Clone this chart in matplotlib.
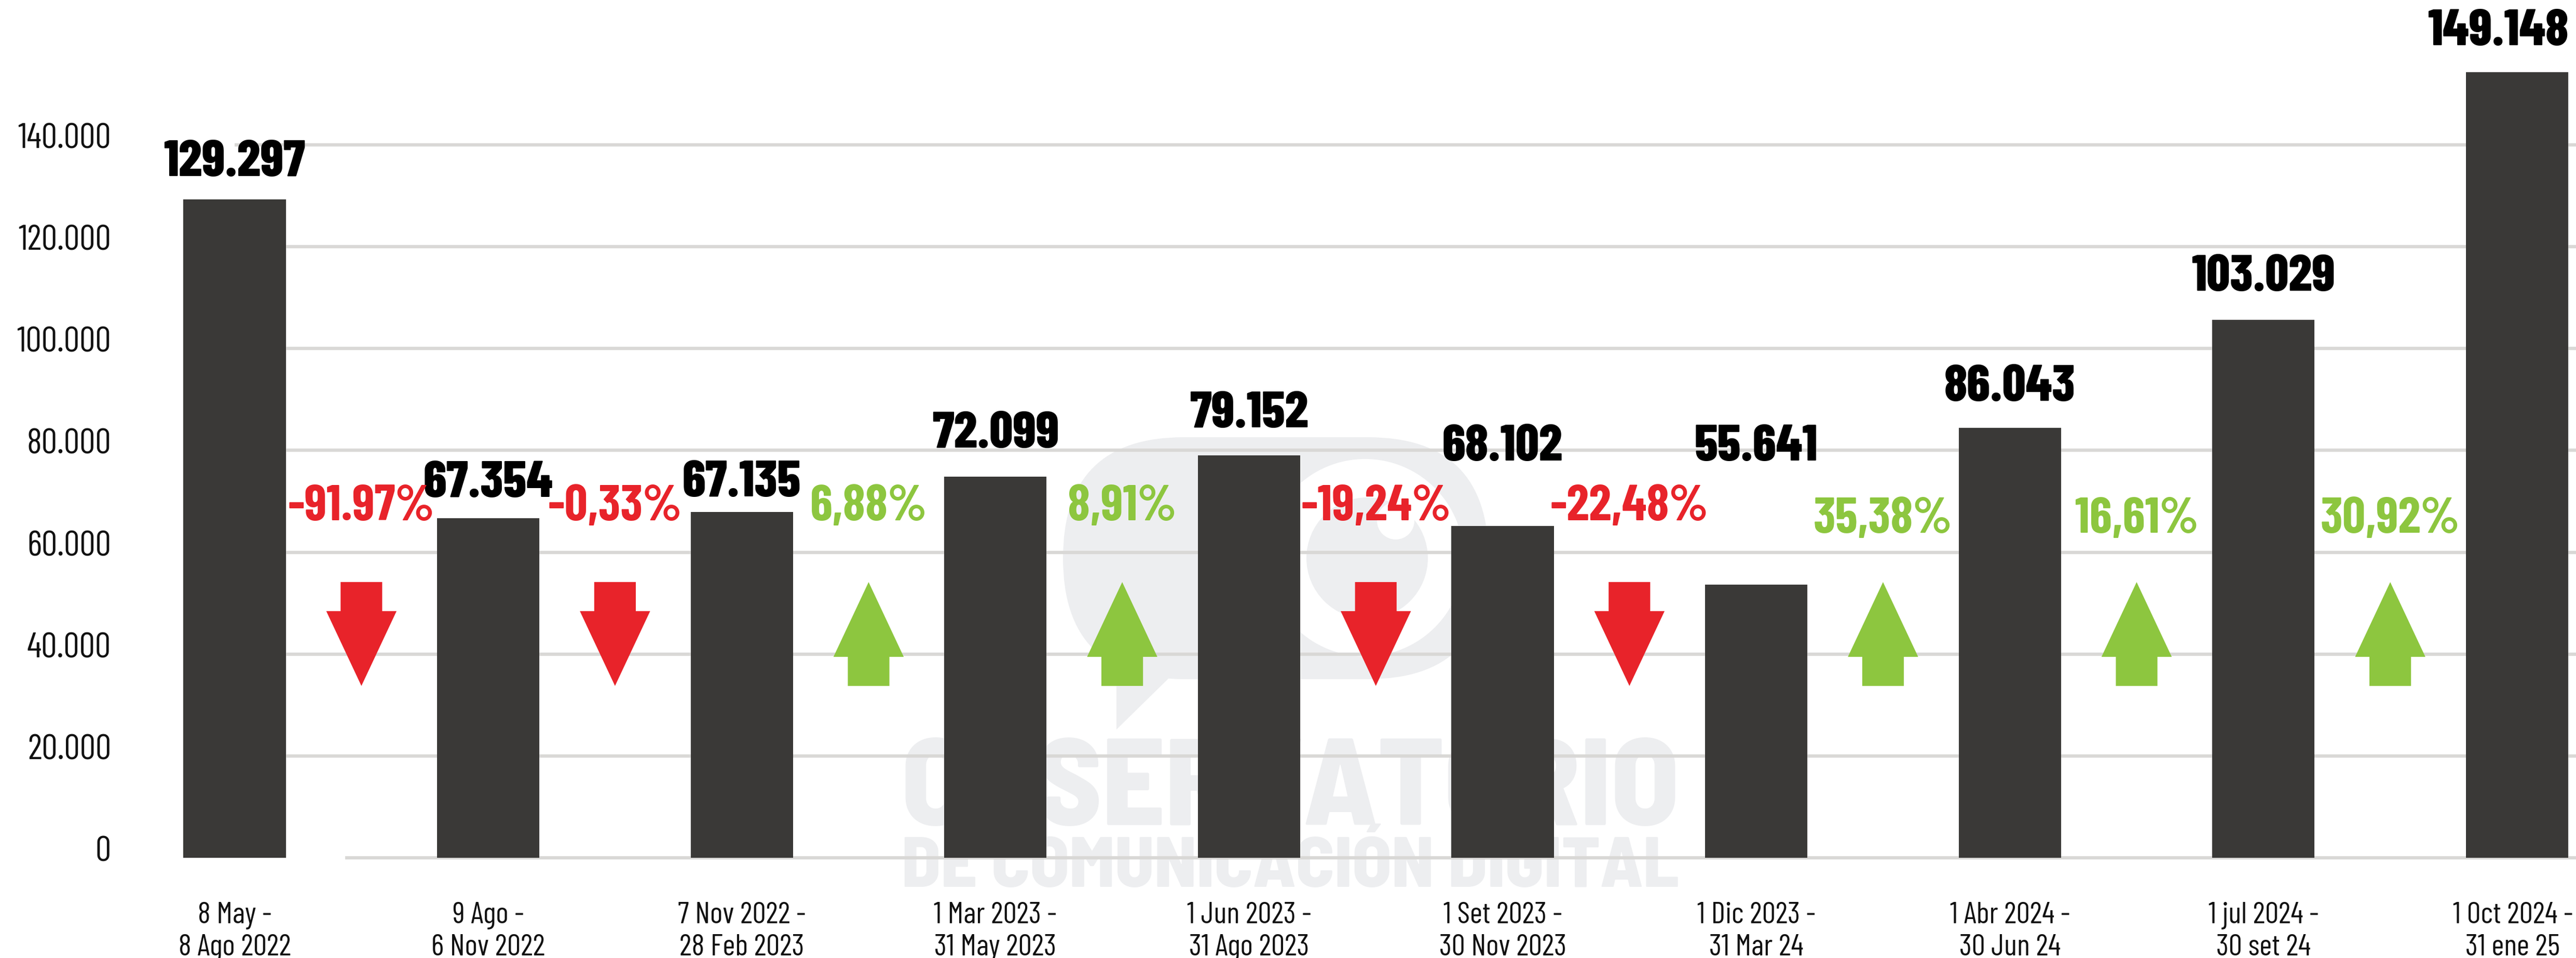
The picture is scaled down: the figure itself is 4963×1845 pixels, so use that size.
import matplotlib
matplotlib.use('Agg')
import numpy as np
import matplotlib.pyplot as plt
from matplotlib import font_manager, transforms
from matplotlib.patches import Polygon, Circle, FancyBboxPatch

# ---------------- data ----------------
categories = ['8 May -\n8 Ago 2022', '9 Ago -\n6 Nov 2022', '7 Nov 2022 -\n28 Feb 2023',
              '1 Mar 2023 -\n31 May 2023', '1 Jun 2023 -\n31 Ago 2023', '1 Set 2023 -\n30 Nov 2023',
              '1 Dic 2023 -\n31 Mar 24', '1 Abr 2024 -\n30 Jun 24', '1 jul 2024 -\n30 set 24',
              '1 Oct 2024 -\n31 ene 25']
bar_heights = [129300, 66700, 67900, 74800, 79000, 65200, 53600, 84400, 105600, 154300]
value_labels = ['129.297', '67.354', '67.135', '72.099', '79.152', '68.102', '55.641',
                '86.043', '103.029', '149.148']
change_labels = ['-91.97%', '-0,33%', '6,88%', '8,91%', '-19,24%', '-22,48%', '35,38%',
                 '16,61%', '30,92%']
change_up = [False, False, True, True, False, False, True, True, True]
y_ticks = [0, 20000, 40000, 60000, 80000, 100000, 120000, 140000]
y_tick_labels = ['0', '20.000', '40.000', '60.000', '80.000', '100.000', '120.000', '140.000']
watermark = ['OBSERVATORIO', 'DE COMUNICACIÓN DIGITAL']

# ---------------- layout / style ----------------
W, H, DPI = 4963, 1845, 100
X0_PX, DX_PX = 452.0, 488.6          # pixel of first category, pixels per category
Y0_PX, DY_PX = 1652.0, 9.807         # pixel of value 0, pixels per 1000
BAR_W = 0.404
BAR_COLOR = '#3a3937'
GRID_COLOR = '#d9d8d6'
RED, GREEN = '#e8232a', '#8dc63f'
WM_COLOR = '#edeef0'
value_gap_px = [45, 41, 30, 56, 54, 126, 239, 52, 56, 52]
pct_baseline_px = [1002, 1002, 1002, 1002, 1002, 1002, 1026, 1026, 1026]

names = {f.name for f in font_manager.fontManager.ttflist}


def pick(cands):
    return next((n for n in cands if n in names), 'DejaVu Sans')


FONT_SEMI = pick(['Barlow Semi Condensed', 'Barlow Condensed', 'Liberation Sans'])
FONT_COND = pick(['Barlow Condensed', 'Barlow Semi Condensed', 'Liberation Sans'])
plt.rcParams['font.family'] = [FONT_COND, 'DejaVu Sans']


def ydata(py):
    return (Y0_PX - py) / DY_PX * 1000.0


def xdata(px):
    return (px - X0_PX) / DX_PX


fig = plt.figure(figsize=(W / DPI, H / DPI), dpi=DPI)
ax = fig.add_axes([0, 0, 1, 1])
ax.set_xlim(xdata(0), xdata(W))
ax.set_ylim(ydata(H), ydata(0))
ax.axis('off')
ident = transforms.IdentityTransform()


def disp(px, py):
    return (px, H - py)


# ---------------- watermark ----------------
pill = FancyBboxPatch(disp(2048, 1308), 2868 - 2048, 1308 - 842,
                      boxstyle='round,pad=0,rounding_size=233',
                      transform=ident, facecolor=WM_COLOR, edgecolor='none', zorder=0.2)
ax.add_patch(pill)
tail = Polygon([disp(2151, 1240), disp(2151, 1405), disp(2250, 1308), disp(2300, 1240)],
               closed=True, transform=ident, facecolor=WM_COLOR, edgecolor='none', zorder=0.2)
ax.add_patch(tail)
ax.add_patch(Circle(disp(2630, 1074), 190, transform=ident, facecolor='white',
                    edgecolor='none', zorder=0.3))
ax.add_patch(Circle(disp(2634, 1075), 117, transform=ident, facecolor=WM_COLOR,
                    edgecolor='none', zorder=0.4))
ax.add_patch(Circle(disp(2689, 1003), 36, transform=ident, facecolor='white',
                    edgecolor='none', zorder=0.5))

wm_texts = []
for txt, base_py in zip(watermark, [1589, 1708]):
    t = ax.text(*disp(2486, base_py), txt, transform=ident, ha='center', va='baseline',
                fontsize=100, fontweight='heavy', family=[FONT_SEMI, 'DejaVu Sans'],
                color=WM_COLOR, zorder=0.6)
    wm_texts.append(t)

# ---------------- grid ----------------
x = np.arange(len(categories))
ax.hlines(y_ticks[1:], 0, xdata(W), colors=GRID_COLOR, linewidth=4.6, zorder=1)
ax.hlines([y_ticks[0]], xdata(665), xdata(W), colors=GRID_COLOR, linewidth=4.6, zorder=1)

tick_texts = []
for v, lab in zip(y_ticks, y_tick_labels):
    tr = transforms.offset_copy(ax.transData, fig=fig, x=0, y=-6.5, units='dots')
    t = ax.text(xdata(214), v, lab, transform=tr, ha='right', va='baseline',
                fontsize=43, color='#111111', zorder=4)
    tick_texts.append(t)

# ---------------- bars ----------------
ax.bar(x, bar_heights, width=BAR_W, color=BAR_COLOR, zorder=2)

value_texts = []
for i, (h, lab) in enumerate(zip(bar_heights, value_labels)):
    tr = transforms.offset_copy(ax.transData, fig=fig, x=0, y=value_gap_px[i], units='dots')
    t = ax.text(i, h, lab, transform=tr, ha='center', va='baseline', fontsize=66,
                fontweight='heavy', color='black', zorder=4)
    value_texts.append(t)

# ---------------- change arrows and labels ----------------
HW, SW = 0.277 / 2, 0.164 / 2
top_v, bot_v = ydata(1121), ydata(1321)
up_base, down_base = ydata(1265), ydata(1177)
pct_texts = []
for i, (lab, up) in enumerate(zip(change_labels, change_up)):
    cx = i + 0.5
    col = GREEN if up else RED
    if up:
        pts = [(cx, top_v), (cx + HW, up_base), (cx + SW, up_base), (cx + SW, bot_v),
               (cx - SW, bot_v), (cx - SW, up_base), (cx - HW, up_base)]
    else:
        pts = [(cx, bot_v), (cx + HW, down_base), (cx + SW, down_base), (cx + SW, top_v),
               (cx - SW, top_v), (cx - SW, down_base), (cx - HW, down_base)]
    ax.add_patch(Polygon(pts, closed=True, facecolor=col, edgecolor='none', zorder=3))
    t = ax.text(cx, ydata(pct_baseline_px[i]), lab, ha='center', va='baseline', fontsize=67,
                fontweight='bold', color=col, zorder=4)
    pct_texts.append(t)

# ---------------- category labels ----------------
cat_texts = []
for i, cat in enumerate(categories):
    lines = cat.split('\n')
    group = []
    for ln, py in zip(lines, [1778, 1840]):
        t = ax.text(i, ydata(py), ln, ha='center', va='baseline', fontsize=36,
                    color='#111111', zorder=4)
        group.append(t)
    cat_texts.append(group)

# ---------------- fit text sizes to the reference widths ----------------
fig.canvas.draw()
r = fig.canvas.get_renderer()


def fit(group, ref, target_w):
    w = ref.get_window_extent(r).width
    k = target_w / w
    for t in group:
        t.set_fontsize(t.get_fontsize() * k)


fit(value_texts, value_texts[0], 273)
fit(pct_texts, pct_texts[4], 289)
fit(tick_texts, tick_texts[-1], 180)
all_cat = [t for g in cat_texts for t in g]
fit(all_cat, cat_texts[0][1], 217)
for t in wm_texts:
    fit([t], t, 3236 - 1736)

fig.canvas.draw()
r = fig.canvas.get_renderer()
for t in value_texts:
    bb = t.get_window_extent(r)
    if bb.x1 > W - 14:
        px, py = t.get_position()
        t.set_position((px - (bb.x1 - (W - 14)) / DX_PX, py))
for group in cat_texts:
    excess = max(t.get_window_extent(r).x1 for t in group) - (W - 6)
    if excess > 0:
        for t in group:
            px, py = t.get_position()
            t.set_position((px - excess / DX_PX, py))

fig.savefig('out.png', dpi=DPI, facecolor='white')
